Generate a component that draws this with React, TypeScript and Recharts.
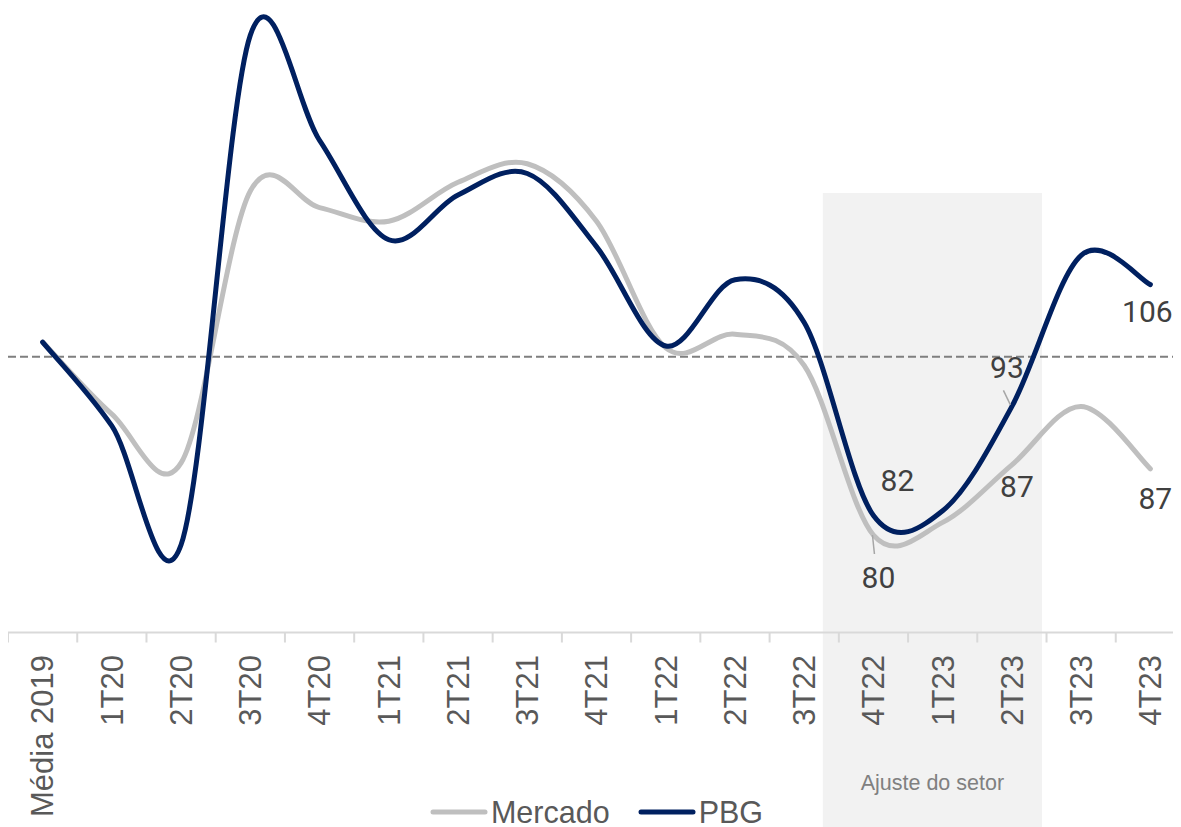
import React from 'react';
import {
  LineChart,
  Line,
  XAxis,
  YAxis,
  ReferenceLine,
  ReferenceArea,
  LabelList,
  Legend,
} from 'recharts';

// ---------- data ----------
const categories = [
  'Média 2019', '1T20', '2T20', '3T20', '4T20', '1T21', '2T21', '3T21', '4T21',
  '1T22', '2T22', '3T22', '4T22', '1T23', '2T23', '3T23', '4T23',
];
const mercado = [100, 92.6, 87.6, 115.5, 113.8, 112.4, 116.4, 118.3, 112.4, 99.4, 100.8, 97.6, 80.2, 81.5, 87.4, 93.4, 87.0];
const pbg = [100, 91.4, 79.2, 131.5, 120.7, 110.5, 115.1, 117.3, 109.8, 99.6, 106.4, 102.0, 82.2, 82.7, 93.4, 108.9, 105.9];
const referenceValue = 98.5;
const shadeFrom = '4T22';
const shadeTo = '2T23';
const shadeTop = 115.3;
const shadeLabel = 'Ajuste do setor';
const yDomain: [number, number] = [70.2, 135.1];

const SERIES = [
  { key: 'mercado', name: 'Mercado', color: '#BFBFBF' },
  { key: 'pbg', name: 'PBG', color: '#002060' },
];

const data = categories.map((cat, i) => ({ cat, mercado: mercado[i], pbg: pbg[i] }));

// ---------- layout ----------
const CHART_W = 1177;
const CHART_H = 827;
const XAXIS_H = 194.5;
const BAND = CHART_W / categories.length;
const TICK_FONT = '"Liberation Sans", Arial, sans-serif';

// Label configuration (offsets relative to the point)
type LabelCfg = { dx: number; dy: number; leader?: [number, number, number, number] };
const mercadoLabels: Record<number, LabelCfg> = {
  12: { dx: 5, dy: 42, leader: [-1, 0, 1, 19] },
  14: { dx: 5, dy: 21 },
  16: { dx: 5, dy: 30 },
};
const pbgLabels: Record<number, LabelCfg> = {
  12: { dx: 24, dy: -35 },
  14: { dx: -5, dy: -39, leader: [-8.5, -16, -1.5, -1.5] },
  16: { dx: -3, dy: 27 },
};

// Catmull-Rom style smoothing (like Excel's smoothed lines)
function smoothCurve(context: any) {
  let pts: [number, number][] = [];
  return {
    areaStart() {},
    areaEnd() {},
    lineStart() {
      pts = [];
    },
    lineEnd() {
      const n = pts.length;
      if (!n) return;
      context.moveTo(pts[0][0], pts[0][1]);
      if (n === 1) return;
      for (let i = 0; i < n - 1; i++) {
        const p0 = pts[Math.max(0, i - 1)];
        const p1 = pts[i];
        const p2 = pts[i + 1];
        const p3 = pts[Math.min(n - 1, i + 2)];
        context.bezierCurveTo(
          p1[0] + (p2[0] - p0[0]) / 6,
          p1[1] + (p2[1] - p0[1]) / 6,
          p2[0] - (p3[0] - p1[0]) / 6,
          p2[1] - (p3[1] - p1[1]) / 6,
          p2[0],
          p2[1]
        );
      }
    },
    point(x: number, y: number) {
      pts.push([+x, +y]);
    },
  };
}

const CustomTick = (props: any) => {
  const { x, y, payload, index } = props;
  const axisY = y - 10;
  const isLast = index === categories.length - 1;
  return (
    <g>
      <line x1={x - BAND / 2} x2={x - BAND / 2} y1={axisY} y2={axisY + 10} stroke="#d9d9d9" strokeWidth={2} />
      {isLast && (
        <line x1={x + BAND / 2} x2={x + BAND / 2} y1={axisY} y2={axisY + 10} stroke="#d9d9d9" strokeWidth={2} />
      )}
      <text
        transform={`translate(${x},${y}) rotate(-90)`}
        x={-12.5}
        y={0}
        dy="0.35em"
        textAnchor="end"
        fill="#595959"
        fontSize={31}
        fontFamily={TICK_FONT}
      >
        {payload.value}
      </text>
    </g>
  );
};

const makeLabel = (cfg: Record<number, LabelCfg>) => (p: any) => {
  const c = cfg[p.index];
  if (!c || p.x == null || p.y == null) return null;
  const cx = p.x + c.dx;
  const cy = p.y + c.dy;
  return (
    <g>
      {c.leader && (
        <line
          x1={p.x + c.leader[0]}
          y1={p.y + c.leader[1]}
          x2={p.x + c.leader[2]}
          y2={p.y + c.leader[3]}
          stroke="#a6a6a6"
          strokeWidth={1.5}
        />
      )}
      <text
        x={cx}
        y={cy}
        dy="0.355em"
        textAnchor="middle"
        fontSize={30}
        fontFamily="Roboto, sans-serif"
        fill="#404040"
      >
        {Math.round(p.value)}
      </text>
    </g>
  );
};

const ShadeShape = (p: any) => {
  const left = p.x - 0.731 * BAND;
  const right = p.x + p.width + 0.434 * BAND;
  return (
    <g>
      <rect x={left} y={p.y} width={right - left} height={p.height + XAXIS_H} fill="#f2f2f2" />
      <text
        x={(left + right) / 2}
        y={p.y + p.height + 157}
        textAnchor="middle"
        fontSize={21.5}
        fontFamily={TICK_FONT}
        fill="#808080"
      >
        {shadeLabel}
      </text>
    </g>
  );
};

const LegendContent = () => (
  <div
    style={{
      display: 'flex',
      justifyContent: 'center',
      alignItems: 'center',
      fontFamily: TICK_FONT,
      fontSize: 30.5,
      color: '#595959',
      lineHeight: '28px',
      height: 28,
    }}
  >
    {SERIES.map((s, i) => (
      <div key={s.key} style={{ display: 'flex', alignItems: 'center', marginLeft: i === 0 ? 0 : 28 }}>
        <svg width={58} height={10} style={{ display: 'block' }}>
          <line x1={3} x2={55} y1={5} y2={5} stroke={s.color} strokeWidth={5} strokeLinecap="round" />
        </svg>
        <span style={{ marginLeft: 3, whiteSpace: 'nowrap', lineHeight: '28px' }}>{s.name}</span>
      </div>
    ))}
  </div>
);

export default function App() {
  return (
    <div style={{ position: 'relative', top: -8, width: CHART_W, height: CHART_H }}>
      <style>{`body{overflow:hidden}`}</style>
      <LineChart width={CHART_W} height={CHART_H} data={data} margin={{ top: 0, right: 0, bottom: 0, left: 0 }}>
        <ReferenceArea
          x1={shadeFrom}
          x2={shadeTo}
          y1={yDomain[0]}
          y2={shadeTop}
          ifOverflow="visible"
          shape={ShadeShape}
        />
        <XAxis
          dataKey="cat"
          interval={0}
          tickSize={10}
          tickMargin={0}
          tickLine={false}
          padding={{ left: BAND / 2, right: BAND / 2 }}
          axisLine={{ stroke: '#d9d9d9', strokeWidth: 2 }}
          height={XAXIS_H}
          tick={<CustomTick />}
        />
        <YAxis hide domain={yDomain} allowDataOverflow />
        <ReferenceLine y={referenceValue} stroke="#7f7f7f" strokeWidth={2} strokeDasharray="8 4" />
        <Line
          dataKey="mercado"
          name="Mercado"
          type={smoothCurve as any}
          stroke="#BFBFBF"
          strokeWidth={5}
          strokeLinecap="round"
          dot={false}
          activeDot={false}
          isAnimationActive={false}
        >
          <LabelList dataKey="mercado" content={makeLabel(mercadoLabels)} />
        </Line>
        <Line
          dataKey="pbg"
          name="PBG"
          type={smoothCurve as any}
          stroke="#002060"
          strokeWidth={5}
          strokeLinecap="round"
          dot={false}
          activeDot={false}
          isAnimationActive={false}
        >
          <LabelList dataKey="pbg" content={makeLabel(pbgLabels)} />
        </Line>
        <Legend
          layout="horizontal"
          verticalAlign="middle"
          align="center"
          wrapperStyle={{ top: 798, left: 0, width: CHART_W, height: 28 }}
          content={<LegendContent />}
        />
      </LineChart>
    </div>
  );
}
